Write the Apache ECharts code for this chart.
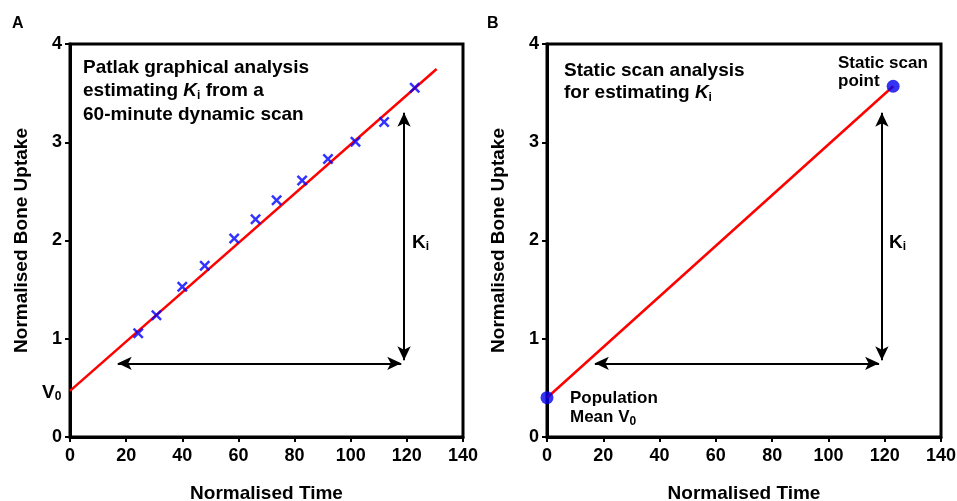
<!DOCTYPE html>
<html>
<head>
<meta charset="utf-8">
<script src="https://cdn.jsdelivr.net/npm/echarts@6/dist/echarts.min.js"></script>
<style>html,body{margin:0;padding:0;background:#fff}#c{width:957px;height:501px}</style>
</head>
<body>
<div id="c"></div>
<script>
// ---- data ----
const xTicks = [0, 20, 40, 60, 80, 100, 120, 140];
const yTicks = [0, 1, 2, 3, 4];
const dynTime = [24.3, 30.8, 40.0, 48.0, 58.5, 66.1, 73.6, 82.7, 91.9, 101.7, 111.9, 122.8];
const dynUptake = [1.055, 1.24, 1.53, 1.744, 2.02, 2.216, 2.41, 2.61, 2.83, 3.006, 3.206, 3.555];
const fitA = [[0, 0.47], [130.6, 3.745]];
const fitB = [[0, 0.40], [123, 3.57]];
const staticPoint = [[123, 3.57]];
const v0Point = [[0, 0.40]];
const hArrow = [[17, 0.75], [118, 0.75]];
const vArrow = [[119, 3.30], [119, 0.78]];

const FONT = 'Liberation Sans, Arial, sans-serif';
const crossPath = 'path://M0,1.6 L1.6,0 L5,3.4 L8.4,0 L10,1.6 L6.6,5 L10,8.4 L8.4,10 L5,6.6 L1.6,10 L0,8.4 L3.4,5 Z';

function xAxis(idx) {
  return {
    gridIndex: idx, type: 'value', min: 0, max: 140, interval: 20,
    name: 'Normalised Time', nameLocation: 'middle', nameGap: 47,
    nameTextStyle: {fontFamily: FONT, fontWeight: 'bold', fontSize: 19, color: '#000'},
    axisLine: {show: true, lineStyle: {color: '#000', width: 3}},
    axisTick: {show: true, length: 5, lineStyle: {color: '#000', width: 2}},
    axisLabel: {fontFamily: FONT, fontWeight: 'bold', fontSize: 18, color: '#000', margin: 10,
      formatter: v => xTicks.includes(v) ? String(v) : ''},
    splitLine: {show: false}
  };
}
function yAxis(idx) {
  return {
    gridIndex: idx, type: 'value', min: 0, max: 4, interval: 1,
    name: 'Normalised Bone Uptake', nameLocation: 'middle', nameGap: 39,
    nameTextStyle: {fontFamily: FONT, fontWeight: 'bold', fontSize: 19, color: '#000'},
    axisLine: {show: true, lineStyle: {color: '#000', width: 3}},
    axisTick: {show: true, length: 5, lineStyle: {color: '#000', width: 2}},
    axisLabel: {fontFamily: FONT, fontWeight: 'bold', fontSize: 18, color: '#000', margin: 8,
      formatter: v => yTicks.includes(v) ? String(v) : ''},
    splitLine: {show: false}
  };
}
function arrows() {
  return {
    silent: true, animation: false,
    symbol: ['arrow', 'arrow'], symbolSize: [10, 14],
    lineStyle: {color: '#000', width: 2, type: 'solid'},
    label: {show: false},
    emphasis: {disabled: true},
    data: [
      [{coord: hArrow[0]}, {coord: hArrow[1]}],
      [{coord: vArrow[0]}, {coord: vArrow[1]}]
    ]
  };
}

const richBase = {
  n: {fontFamily: FONT, fontWeight: 'bold', fontSize: 19, color: '#000'},
  k: {fontFamily: FONT, fontWeight: 'bold', fontStyle: 'italic', fontSize: 19, color: '#000'},
  K: {fontFamily: FONT, fontWeight: 'bold', fontSize: 19, color: '#000'},
  s: {fontFamily: FONT, fontWeight: 'bold', fontSize: 12, color: '#000', padding: [9, 0, 0, 0]},
  m: {fontFamily: FONT, fontWeight: 'bold', fontSize: 17, color: '#000'},
  ms: {fontFamily: FONT, fontWeight: 'bold', fontSize: 12, color: '#000', padding: [8, 0, 0, 0]}
};
function txt(x, y, text, extra) {
  return {type: 'text', x: x, y: y, silent: true, style: Object.assign({text: text, rich: richBase, fill: '#000', font: 'bold 19px ' + FONT, lineHeight: 23}, extra || {})};
}

const chart = echarts.init(document.getElementById('c'), null, {renderer: 'canvas'});
chart.setOption({
  animation: false,
  backgroundColor: '#fff',
  grid: [
    {left: 70, top: 44, width: 393, height: 393, outerBoundsMode: 'none', containLabel: false,
      show: true, borderColor: '#000', borderWidth: 3, backgroundColor: 'transparent'},
    {left: 547, top: 44, width: 394, height: 393, outerBoundsMode: 'none', containLabel: false,
      show: true, borderColor: '#000', borderWidth: 3, backgroundColor: 'transparent'}
  ],
  xAxis: [xAxis(0), xAxis(1)],
  yAxis: [yAxis(0), yAxis(1)],
  series: [
    {type: 'line', xAxisIndex: 0, yAxisIndex: 0, data: fitA, symbol: 'none',
      lineStyle: {color: '#ff0000', width: 2.5}, markLine: arrows(), z: 2},
    {type: 'scatter', xAxisIndex: 0, yAxisIndex: 0,
      data: dynTime.map((t, i) => [t, dynUptake[i]]),
      symbol: crossPath, symbolSize: 11, itemStyle: {color: '#0000ff'}, z: 3},
    {type: 'line', xAxisIndex: 1, yAxisIndex: 1, data: fitB, symbol: 'none',
      lineStyle: {color: '#ff0000', width: 2.5}, markLine: arrows(), z: 2},
    {type: 'scatter', xAxisIndex: 1, yAxisIndex: 1, data: staticPoint.concat(v0Point),
      symbol: 'circle', symbolSize: 13, itemStyle: {color: '#0000ee'}, z: 3}
  ],
  graphic: [
    txt(12, 12, 'A', {font: 'bold 16px ' + FONT}),
    txt(487, 12, 'B', {font: 'bold 16px ' + FONT}),
    txt(83, 56, '{n|Patlak graphical analysis}\n{n|estimating }{k|K}{s|i}{n| from a}\n{n|60-minute dynamic scan}', {lineHeight: 23.5}),
    txt(564, 60, '{n|Static scan analysis}\n{n|for estimating }{k|K}{s|i}', {lineHeight: 22}),
    txt(412, 231, '{K|K}{s|i}'),
    txt(889, 231, '{K|K}{s|i}'),
    txt(42, 381, '{K|V}{s|0}'),
    txt(838, 54, '{m|Static scan}\n{m|point}', {lineHeight: 18}),
    txt(570, 389, '{m|Population}\n{m|Mean V}{ms|0}', {lineHeight: 19})
  ]
});
</script>
</body>
</html>
